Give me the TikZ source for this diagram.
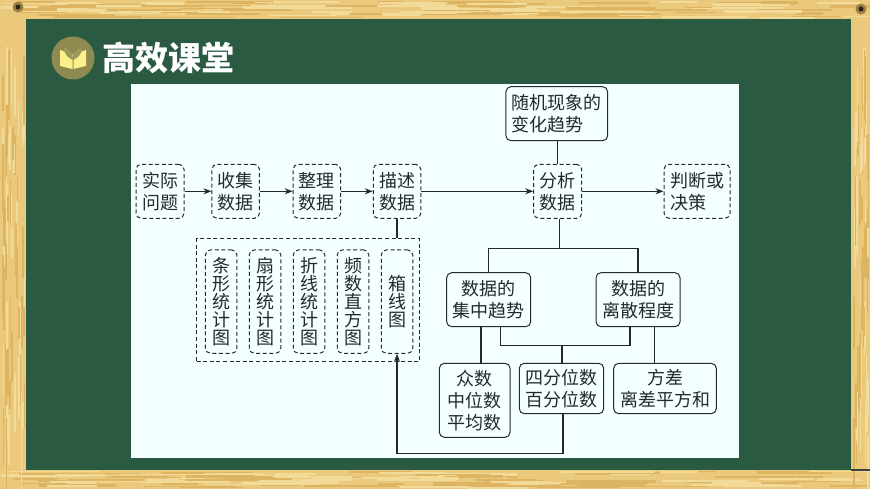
\documentclass[tikz,border=0pt]{standalone}
\usepackage{fontspec}
\setmainfont{Noto Sans CJK SC}
\usetikzlibrary{arrows.meta,calc}
\definecolor{board}{HTML}{2B5A43}
\definecolor{panel}{HTML}{F4FFFF}
\definecolor{wood}{HTML}{EAC97C}
\definecolor{woodd}{HTML}{DDB562}
\definecolor{woodl}{HTML}{F2DB98}
\definecolor{ink}{HTML}{24292D}
\definecolor{disc}{HTML}{8F8A50}
\definecolor{page}{HTML}{FBF08A}
\tikzset{
  x=1pt,y=-1pt,
  base/.style={draw=ink,line width=1pt,rounded corners=5pt,inner sep=0pt,align=center,text=ink,font=\fontsize{18}{22}\selectfont},
  dbox/.style={base,dash pattern=on 4pt off 2.6pt},
  sbox/.style={base},
  vbox/.style={dbox,font=\fontsize{18}{18}\selectfont,minimum width=31.5pt,minimum height=103.3pt},
  link/.style={draw=ink,line width=1.1pt},
  arr/.style={link,-{Stealth[length=8pt,width=6pt]}},
  title/.style={text=white,inner sep=0pt,font=\fontsize{33}{36}\bfseries\selectfont},
}
\begin{document}
\begin{tikzpicture}
\useasboundingbox (0,0) rectangle (870,489);
% frame
\fill[wood] (0,0) rectangle (870,489);
\pgfmathsetseed{11}
\foreach \i in {1,...,110}{
  \pgfmathsetmacro{\xa}{rnd*830}
  \pgfmathsetmacro{\ln}{25+rnd*70}
  \pgfmathsetmacro{\ya}{1+rnd*16}
  \pgfmathsetmacro{\yb}{471+rnd*16}
  \pgfmathsetmacro{\th}{1+rnd*1.8}
  \pgfmathparse{mod(\i,2)==0 ? "woodd" : "woodl"}\edef\cc{\pgfmathresult}
  \fill[\cc] (\xa,\ya) rectangle ++(\ln,\th);
  \fill[\cc] (\xa,\yb) rectangle ++(\ln,\th);
}
\foreach \i in {1,...,60}{
  \pgfmathsetmacro{\ya}{20+rnd*420}
  \pgfmathsetmacro{\ln}{25+rnd*50}
  \pgfmathsetmacro{\xa}{2+rnd*22}
  \pgfmathsetmacro{\xb}{853+rnd*15}
  \pgfmathparse{mod(\i,2)==0 ? "woodd" : "woodl"}\edef\cc{\pgfmathresult}
  \fill[\cc] (\xa,\ya) rectangle ++(1.6,\ln);
  \fill[\cc] (\xb,\ya) rectangle ++(1.6,\ln);
}
\fill[black!75] (851,469) rectangle (870,470.5);
\fill[board] (26,19) rectangle (851,470);
% screws
\fill[woodd!70!black] (18,7) circle (5.5pt);
\fill[black!80!woodd] (18,7) circle (2.5pt);
\fill[woodd!70!black] (861,9) circle (5.5pt);
\fill[black!80!woodd] (861,9) circle (2.5pt);
% heading
\fill[disc] (73,58) circle (21.5pt);
\fill[page] (60,50) -- (72.5,54) -- (72.5,69) -- (60,66) -- cycle;
\fill[page] (86,50) -- (73.5,54) -- (73.5,69) -- (86,66) -- cycle;
\fill[disc!85!page] (64,48) .. controls (70,49) and (72,52) .. (73,58) .. controls (74,52) and (76,49) .. (82,48) .. controls (82,54) and (78,58) .. (73,60) .. controls (68,58) and (64,54) .. (64,48) -- cycle;
\node[title,anchor=center] (ttl) at (168,58) {高效课堂};
% panel
\fill[panel] (130.6,84.5) rectangle (739,458);
% top row
\node[dbox,minimum width=48pt,minimum height=54pt] (shiji) at (160,191.3) {实际\\问题};
\node[dbox,minimum width=47.5pt,minimum height=54pt] (shouji) at (235.7,191.3) {收集\\数据};
\node[dbox,minimum width=47.5pt,minimum height=54pt] (zhengli) at (316.9,191.3) {整理\\数据};
\node[dbox,minimum width=47.5pt,minimum height=54pt] (miaoshu) at (397,191.3) {描述\\数据};
\node[dbox,minimum width=48pt,minimum height=54pt] (fenxi) at (557.7,191.3) {分析\\数据};
\node[dbox,minimum width=66pt,minimum height=54pt,align=left] (panduan) at (697,191.3) {判断或\\决策};
\node[sbox,minimum width=101.7pt,minimum height=54pt,align=left] (suiji) at (556.8,113.7) {随机现象的\\变化趋势};
% chart group
\node[dbox,rounded corners=0pt,minimum width=223.3pt,minimum height=122pt] (group) at (308.3,300) {};
\node[vbox] (tiao) at (221.2,301.6) {条\\形\\统\\计\\图};
\node[vbox] (shan) at (265,301.6) {扇\\形\\统\\计\\图};
\node[vbox] (zhe) at (309,301.6) {折\\线\\统\\计\\图};
\node[vbox] (pin) at (353,301.6) {频\\数\\直\\方\\图};
\node[vbox] (xiang) at (397,301.6) {箱\\线\\图};
% trend boxes
\node[sbox,minimum width=84pt,minimum height=54pt] (jizhong) at (488.7,299.7) {数据的\\集中趋势};
\node[sbox,minimum width=84pt,minimum height=54pt] (lisan) at (638,299.7) {数据的\\离散程度};
\node[sbox,minimum width=70.7pt,minimum height=74pt] (zhong) at (474.7,400.3) {众数\\中位数\\平均数};
\node[sbox,minimum width=84.4pt,minimum height=50.4pt] (sifen) at (561.5,388.5) {四分位数\\百分位数};
\node[sbox,minimum width=102.6pt,minimum height=50.4pt] (fangcha) at (665,388.5) {方差\\离差平方和};
% junctions
\coordinate (tee) at (559.3,248.3);
\coordinate (fork) at (562,345.3);
\coordinate (lowr) at (563,453.3);
% connectors
\draw[arr] (shiji) -- (shouji);
\draw[arr] (shouji) -- (zhengli);
\draw[arr] (zhengli) -- (miaoshu);
\draw[arr] (miaoshu) -- (fenxi);
\draw[arr] (fenxi) -- (panduan);
\draw[link] (suiji.south -| fenxi.north) -- (fenxi.north);
\draw[link] (miaoshu.south) -- (group.north -| miaoshu.south);
\draw[link] (tee |- fenxi.south) -- (tee);
\draw[link] (jizhong.north) |- (tee) -| (lisan.north);
\draw[link] (481,326.7) -- (481,363.3);
\draw[link] (500.7,326.7) |- (fork) -| (630,326.7);
\draw[link] (fork) -- (fork |- sifen.north);
\draw[link] (654.7,326.7) -- (654.7,363.3);
\draw[arr] (lowr |- sifen.south) -- (lowr) -| (xiang.south);
\end{tikzpicture}
\end{document}
